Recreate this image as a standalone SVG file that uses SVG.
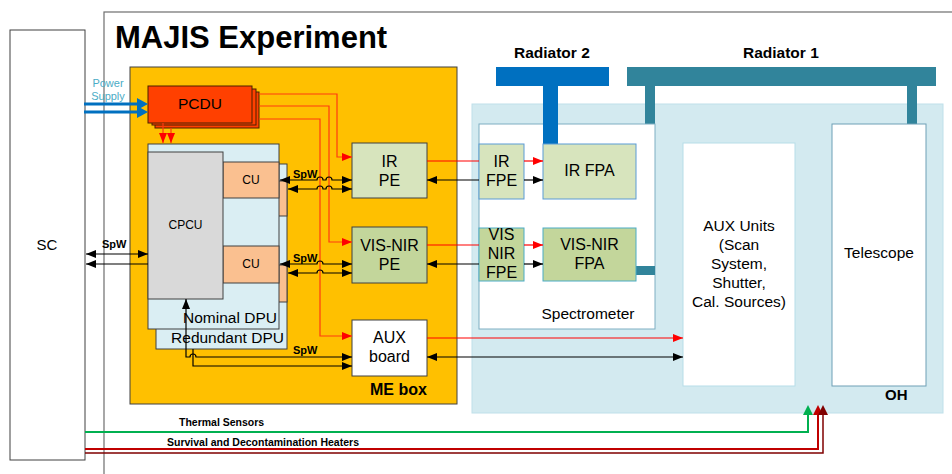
<svg xmlns="http://www.w3.org/2000/svg" width="952" height="474" viewBox="0 0 952 474">
<style>
.t{font-family:"Liberation Sans",Arial,sans-serif;fill:#000}
.b{font-weight:bold}
.m{text-anchor:middle}
.ln{fill:none;stroke-width:1.2}
.blk{stroke:#000}
.red{stroke:#FF0000}
.ora{stroke:#FF3A10}
</style>
<defs>
<marker id="ab" markerUnits="userSpaceOnUse" markerWidth="10" markerHeight="8" refX="10" refY="4" orient="auto-start-reverse"><path d="M0,0 L10,4 L0,8 z" fill="#000"/></marker>
<marker id="ar" markerUnits="userSpaceOnUse" markerWidth="10" markerHeight="8" refX="10" refY="4" orient="auto-start-reverse"><path d="M0,0 L10,4 L0,8 z" fill="#FF0000"/></marker>
<marker id="ag" markerUnits="userSpaceOnUse" markerWidth="10" markerHeight="10" refX="5" refY="5" orient="auto"><path d="M0,0 L10,5 L0,10 z" fill="#00B050"/></marker>
<marker id="ad" markerUnits="userSpaceOnUse" markerWidth="10" markerHeight="10" refX="5" refY="5" orient="auto"><path d="M0,0 L10,5 L0,10 z" fill="#C00000"/></marker>
<marker id="add" markerUnits="userSpaceOnUse" markerWidth="10" markerHeight="10" refX="5" refY="5" orient="auto"><path d="M0,0 L10,5 L0,10 z" fill="#800000"/></marker>
<marker id="abl" markerUnits="userSpaceOnUse" markerWidth="12" markerHeight="12" refX="0" refY="6" orient="auto"><path d="M0,0 L11,6 L0,12 z" fill="#0070C0"/></marker>
</defs>

<g id="majis">
<rect x="104" y="12" width="900" height="500" fill="none" stroke="#6E6E6E" stroke-width="1.2"/>
<text class="t b" x="115" y="48" font-size="31">MAJIS Experiment</text>
</g>

<g id="sc">
<rect x="10" y="30" width="75" height="430" fill="#fff" stroke="#404040"/>
<text class="t m" x="47" y="250" font-size="15">SC</text>
</g>

<g id="oh">
<rect x="472" y="104" width="471" height="309" fill="#D3EAF0" stroke="#BFE0EA"/>
<text class="t b" x="885" y="400" font-size="15">OH</text>
</g>

<g id="me-box">
<rect x="130" y="67" width="327" height="337" fill="#FFC000" stroke="#404040"/>
<text class="t b" x="370" y="395" font-size="16">ME box</text>
</g>

<g id="radiator-2">
<rect x="496" y="67" width="113" height="19" fill="#0070C0"/>
<text class="t b" x="514" y="58" font-size="15.5">Radiator 2</text>
</g>

<g id="radiator-1">
<rect x="627" y="67" width="309" height="19" fill="#31849B"/>
<rect x="645" y="86" width="10" height="38" fill="#31849B"/>
<rect x="907" y="86" width="10" height="38" fill="#31849B"/>
<text class="t b" x="743" y="58" font-size="15.5">Radiator 1</text>
</g>

<g id="spectrometer">
<rect x="479" y="124" width="176" height="205" fill="#fff" stroke="#7FAEC2"/>
<rect x="636" y="266" width="19" height="9" fill="#31849B"/>
<text class="t m" x="588" y="319" font-size="15.5">Spectrometer</text>
</g>

<g id="radiator-2-stem">
<rect x="543" y="86" width="15" height="58" fill="#0070C0"/>
</g>

<g id="aux-units">
<rect x="683" y="143" width="112" height="243" fill="#fff" stroke="#B7DDE8"/>
<text class="t m" font-size="15.5"><tspan x="739" y="231">AUX Units</tspan><tspan x="739" y="250">(Scan</tspan><tspan x="739" y="269">System,</tspan><tspan x="739" y="288">Shutter,</tspan><tspan x="739" y="307">Cal. Sources)</tspan></text>
</g>

<g id="telescope">
<rect x="832" y="124" width="94" height="262" fill="#fff" stroke="#6F9FB5"/>
<text class="t m" x="879" y="258" font-size="15.5">Telescope</text>
</g>

<g id="ir-fpe">
<rect x="479" y="144" width="45" height="55" fill="#D7E4BD" stroke="#5B9BD5"/>
<text class="t m" font-size="16"><tspan x="501.5" y="167">IR</tspan><tspan x="501.5" y="186">FPE</tspan></text>
</g>
<g id="ir-fpa">
<rect x="543" y="144" width="93" height="55" fill="#D7E4BD" stroke="#5B9BD5"/>
<text class="t m" x="589.5" y="176" font-size="16">IR FPA</text>
</g>
<g id="vis-nir-fpe">
<rect x="479" y="228" width="45" height="53" fill="#C3D69B" stroke="#4BACC6"/>
<text class="t m" font-size="16"><tspan x="501.5" y="240">VIS</tspan><tspan x="501.5" y="259">NIR</tspan><tspan x="501.5" y="278">FPE</tspan></text>
</g>
<g id="vis-nir-fpa">
<rect x="543" y="228" width="93" height="53" fill="#C3D69B" stroke="#4BACC6"/>
<text class="t m" font-size="16"><tspan x="589.5" y="250">VIS-NIR</tspan><tspan x="589.5" y="269">FPA</tspan></text>
</g>

<g id="ir-pe">
<rect x="352" y="143" width="75" height="55" fill="#D7E4BD" stroke="#404040"/>
<text class="t m" font-size="16"><tspan x="389.5" y="167">IR</tspan><tspan x="389.5" y="186">PE</tspan></text>
</g>
<g id="vis-nir-pe">
<rect x="352" y="227" width="75" height="56" fill="#C3D69B" stroke="#404040"/>
<text class="t m" font-size="16"><tspan x="389.5" y="251">VIS-NIR</tspan><tspan x="389.5" y="270">PE</tspan></text>
</g>
<g id="aux-board">
<rect x="352" y="320" width="75" height="56" fill="#fff" stroke="#404040"/>
<text class="t m" font-size="16"><tspan x="389.5" y="343">AUX</tspan><tspan x="389.5" y="362">board</tspan></text>
</g>

<g id="pcdu">
<rect x="155" y="92" width="104" height="36" fill="#FF4000" stroke="#4A2000"/>
<rect x="152" y="89" width="104" height="36" fill="#FF4000" stroke="#4A2000"/>
<rect x="148" y="86" width="104" height="37" fill="#FF4000" stroke="#4A2000"/>
<text class="t m" x="200" y="109" font-size="15.5">PCDU</text>
</g>

<g id="redundant-dpu">
<rect x="156" y="164" width="131" height="185" fill="#DAEEF3" stroke="#404040"/>
<rect x="231" y="181" width="56" height="35" fill="#FAC090" stroke="#404040"/>
<rect x="231" y="265" width="56" height="37" fill="#FAC090" stroke="#404040"/>
<text class="t m" x="227.5" y="343" font-size="15.5">Redundant DPU</text>
</g>

<g id="nominal-dpu">
<rect x="148" y="144" width="131" height="185" fill="#DAEEF3" stroke="#404040"/>
<text class="t m" x="230" y="323" font-size="15.5">Nominal DPU</text>
</g>
<g id="cu-1">
<rect x="223" y="162" width="56" height="36" fill="#FAC090" stroke="#404040"/>
<text class="t m" x="251" y="184" font-size="12">CU</text>
</g>
<g id="cu-2">
<rect x="223" y="246" width="56" height="37" fill="#FAC090" stroke="#404040"/>
<text class="t m" x="251" y="268" font-size="12">CU</text>
</g>
<g id="cpcu">
<rect x="148" y="152" width="75" height="147" fill="#D9D9D9" stroke="#404040"/>
<text class="t m" x="185.5" y="229" font-size="12">CPCU</text>
</g>

<g id="power-supply-label">
<text class="t m" font-size="11" style="fill:#4BACC6"><tspan x="108" y="87">Power</tspan><tspan x="108" y="100">Supply</tspan></text>
</g>

<g id="connectors">
<path d="M84 104 H137" fill="none" stroke="#0070C0" stroke-width="3" marker-end="url(#abl)"/>
<path d="M84 112 H137" fill="none" stroke="#0070C0" stroke-width="3" marker-end="url(#abl)"/>
<path class="ln ora" d="M259 94 H337 V157 H352" marker-end="url(#ar)"/>
<path class="ln ora" d="M259 106 H329 V242 H352" marker-end="url(#ar)"/>
<path class="ln ora" d="M259 119 H320 V336 H352" marker-end="url(#ar)"/>
<path class="ln ora" d="M163 123 V143" marker-end="url(#ar)"/>
<path class="ln ora" d="M171 128 V143" marker-end="url(#ar)"/>
<path class="ln blk" d="M86 254 H148" marker-start="url(#ab)" marker-end="url(#ab)"/>
<path class="ln blk" d="M86 264 H148" marker-start="url(#ab)"/>
<text class="t b" x="102" y="248" font-size="11">SpW</text>
<path class="ln blk" d="M280 180 H317 a3 3 0 0 1 6 0 H326 a3 3 0 0 1 6 0 H352" marker-start="url(#ab)" marker-end="url(#ab)"/>
<path class="ln blk" d="M288 189 H317 a3 3 0 0 1 6 0 H326 a3 3 0 0 1 6 0 H352" marker-start="url(#ab)" marker-end="url(#ab)"/>
<text class="t b" x="293" y="178" font-size="11">SpW</text>
<path class="ln blk" d="M280 264 H317 a3 3 0 0 1 6 0 H352" marker-start="url(#ab)" marker-end="url(#ab)"/>
<path class="ln blk" d="M288 273 H317 a3 3 0 0 1 6 0 H352" marker-start="url(#ab)" marker-end="url(#ab)"/>
<text class="t b" x="293" y="262" font-size="11">SpW</text>
<path class="ln blk" d="M186 299 V357 H190 a3 3 0 0 1 6 0 H352" marker-start="url(#ab)" marker-end="url(#ab)"/>
<path class="ln blk" d="M193 349 V366 H352" marker-end="url(#ab)"/>
<text class="t b" x="293" y="354" font-size="11">SpW</text>
<path class="ln red" d="M427 161 H479"/>
<path class="ln red" d="M524 161 H543" marker-end="url(#ar)"/>
<path class="ln blk" d="M479 180 H427" marker-end="url(#ab)"/>
<path class="ln blk" d="M524 180 H543" marker-end="url(#ab)"/>
<path class="ln red" d="M427 245 H479"/>
<path class="ln red" d="M524 245 H543" marker-end="url(#ar)"/>
<path class="ln blk" d="M479 264 H427" marker-end="url(#ab)"/>
<path class="ln blk" d="M524 264 H543" marker-end="url(#ab)"/>
<path class="ln red" d="M427 338 H683" marker-end="url(#ar)"/>
<path class="ln blk" d="M427 357 H683" marker-start="url(#ab)" marker-end="url(#ab)"/>
<path d="M85 432 H808 V410" fill="none" stroke="#00B050" stroke-width="2" marker-end="url(#ag)"/>
<path d="M85 449 H818 V410" fill="none" stroke="#C00000" stroke-width="2" marker-end="url(#ad)"/>
<path d="M85 453 H823 V410" fill="none" stroke="#800000" stroke-width="1.5" marker-end="url(#add)"/>
<text class="t b" x="179" y="426" font-size="10.5">Thermal Sensors</text>
<text class="t b" x="167" y="446" font-size="10.5">Survival and Decontamination Heaters</text>
</g>
</svg>
